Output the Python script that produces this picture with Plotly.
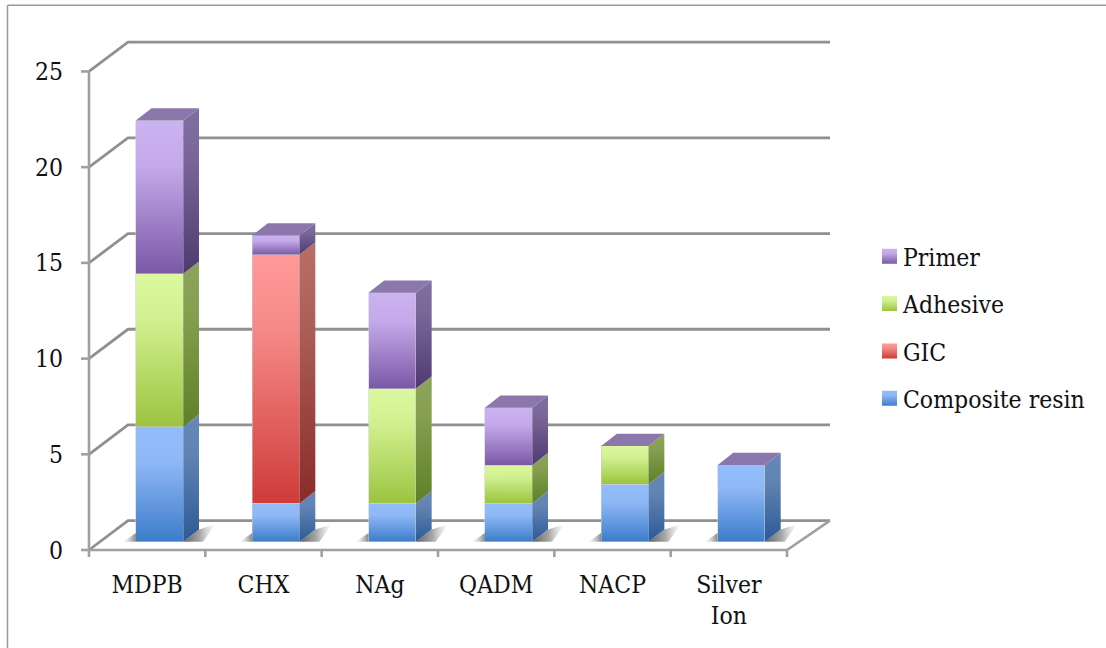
import plotly.graph_objects as go

# Chart data
categories = ["MDPB", "CHX", "NAg", "QADM", "NACP", "Silver<br>Ion"]
composite_resin = [6, 2, 2, 2, 3, 4]
gic = [0, 13, 0, 0, 0, 0]
adhesive = [8, 0, 6, 2, 2, 0]
primer = [8, 1, 5, 3, 0, 0]
value_ticks = [0, 5, 10, 15, 20, 25]

series = [
    ("Composite resin", composite_resin, 4,
     ["#93bcfb", "#8fb8f6", "#3c7cca"], ["#6687b8", "#6284b4", "#2b5a96"]),
    ("GIC", gic, 3,
     ["#ff9a98", "#f58a88", "#cf3b39"], ["#b86f68", "#ad605a", "#8a2b28"]),
    ("Adhesive", adhesive, 2,
     ["#dcf8a0", "#d2f090", "#9bc43f"], ["#8da35e", "#86a050", "#5e7f27"]),
    ("Primer", primer, 1,
     ["#cbb2f0", "#c4a9ea", "#7a58a6"], ["#816fa2", "#7a6699", "#4e3a70"]),
]
TOP_FACE = "#8b77ab"
GRID_GREY = "#909090"
FONT = "DejaVu Serif Condensed, DejaVu Serif, serif"
FONT_SIZE = 24.5

# Page geometry in pixels: the box front sits at BOX_LEFT / BOX_BOTTOM,
# with a little room around it so its edges and tick marks are not clipped
WIDTH, HEIGHT = 1106, 648
BOX_LEFT, BOX_RIGHT, BOX_TOP, BOX_BOTTOM = 89, 830, 42.3, 550
PAD_L, PAD_R, PAD_T, PAD_B = 9, 3, 3, 8
LEFT, RIGHT, TOP, BOTTOM = BOX_LEFT - PAD_L, BOX_RIGHT + PAD_R, BOX_TOP - PAD_T, BOX_BOTTOM + PAD_B
X_UNIT = 116.4
Y_UNIT = 19.13

# Oblique depth of the chart box and of the columns, in axis units
WALL_DX_LEFT = 39 / X_UNIT
WALL_DX_RIGHT = 43 / X_UNIT
WALL_DY = 29.3 / Y_UNIT
BAR_WIDTH = 47.5 / X_UNIT
BAR_SHIFT = 12.4 / X_UNIT
BAR_DX = 15.7 / X_UNIT
BAR_DY = 12.3 / Y_UNIT
FLOOR_LIFT = 8.3 / Y_UNIT

X_RANGE = [-0.5 - PAD_L / X_UNIT, 5.5 + WALL_DX_RIGHT + PAD_R / X_UNIT]
Y_RANGE = [-PAD_B / Y_UNIT, (BOX_BOTTOM - BOX_TOP + PAD_T) / Y_UNIT]


def stops(colors):
    return [[0, colors[0]], [0.3, colors[1]], [1, colors[2]]]


def polygon(xs, ys, color, meta=None):
    return go.Scatter(
        x=xs + xs[:1], y=ys + ys[:1], yaxis="y2", mode="lines", fill="toself",
        fillcolor=color, line=dict(width=0), hoverinfo="skip",
        showlegend=False, meta=meta,
    )


fig = go.Figure()

# Back wall and left wall gridlines
grid_x, grid_y = [], []
for v in value_ticks:
    grid_x += [-0.5, -0.5 + WALL_DX_LEFT, 5.5 + WALL_DX_RIGHT, None]
    grid_y += [v, v + WALL_DY, v + WALL_DY, None]
fig.add_trace(go.Scatter(
    x=grid_x, y=grid_y, mode="lines", line=dict(color=GRID_GREY, width=2.8),
    hoverinfo="skip", showlegend=False,
))

# Front edges of the box with their tick marks
edge_x = [-0.5, -0.5, None, -0.5, 5.5, 5.5 + WALL_DX_RIGHT, None]
edge_y = [value_ticks[-1], 0, None, 0, 0, WALL_DY, None]
for v in value_ticks:
    edge_x += [-0.5 - 8 / X_UNIT, -0.5, None]
    edge_y += [v, v, None]
for k in range(len(categories) + 1):
    edge_x += [k - 0.5, k - 0.5, None]
    edge_y += [0, -7 / Y_UNIT, None]
fig.add_trace(go.Scatter(
    x=edge_x, y=edge_y, mode="lines", line=dict(color="#a0a0a0", width=2.6),
    hoverinfo="skip", showlegend=False,
))

# Stacked front faces
for name, values, rank, front, _ in series:
    fig.add_trace(go.Bar(
        x=list(range(len(categories))), y=values, name=name, yaxis="y2",
        width=BAR_WIDTH, offset=BAR_SHIFT - BAR_WIDTH / 2,
        marker=dict(color=front[1], line=dict(color="rgba(205,205,205,0.7)", width=0.8)),
        legendgroup=name, legendrank=rank, hoverinfo="skip",
        meta={"stops": stops(front)},
    ))

# Floor shadows, side faces and caps derived from the stacked values
for i in range(len(categories)):
    left = i + BAR_SHIFT - BAR_WIDTH / 2
    right = left + BAR_WIDTH
    fig.add_trace(polygon(
        [right, right + BAR_DX, right + BAR_DX + 0.14, right + 0.17],
        [0, BAR_DY, BAR_DY + 0.25, 0], "#777777",
        {"stops": [[0, "#444444", 0.85], [0.5, "#666666", 0.6], [1, "#999999", 0]], "horizontal": True},
    ))
    fig.add_trace(polygon(
        [left - 0.11, left, left], [0, 0, 0.45], "#777777",
        {"stops": [[0, "#999999", 0], [1, "#555555", 0.7]], "horizontal": True},
    ))
    base = 0
    for name, values, _, _, side in series:
        h = values[i]
        if h:
            fig.add_trace(polygon(
                [right, right + BAR_DX, right + BAR_DX, right],
                [base, base + BAR_DY, base + h + BAR_DY, base + h],
                side[1], {"stops": stops(side)},
            ))
        base += h
    fig.add_trace(polygon(
        [left, left + BAR_DX, right + BAR_DX, right],
        [base, base + BAR_DY, base + BAR_DY, base], TOP_FACE,
    ))


def paper_x(px):
    return (px - LEFT) / (RIGHT - LEFT)


def paper_y(px):
    return (BOTTOM - px) / (BOTTOM - TOP)


fig.update_layout(
    width=WIDTH, height=HEIGHT, autosize=False,
    margin=dict(l=LEFT, r=WIDTH - RIGHT, t=TOP, b=HEIGHT - BOTTOM, pad=0),
    paper_bgcolor="white", plot_bgcolor="white",
    barmode="stack", showlegend=True,
    font=dict(family=FONT, size=FONT_SIZE, color="#111111"),
    xaxis=dict(
        range=X_RANGE, showgrid=False, zeroline=False, showline=False,
        tickmode="array", tickvals=list(range(len(categories))), ticktext=categories,
        ticks="", ticklabelstandoff=9, fixedrange=True,
    ),
    yaxis=dict(
        range=Y_RANGE, showgrid=False, zeroline=False, showline=False,
        tickmode="array", tickvals=value_ticks, ticks="",
        ticklabelstandoff=16, fixedrange=True,
    ),
    yaxis2=dict(
        overlaying="y", range=[Y_RANGE[0] - FLOOR_LIFT, Y_RANGE[1] - FLOOR_LIFT],
        visible=False, fixedrange=True,
    ),
    legend=dict(
        x=paper_x(863), xanchor="left", y=paper_y(234), yanchor="top",
        traceorder="grouped", tracegroupgap=12.5,
        bgcolor="rgba(0,0,0,0)", font=dict(family=FONT, size=FONT_SIZE, color="#111111"),
    ),
    shapes=[
        dict(type="line", xref="paper", yref="paper", line=dict(color="#999999", width=1.5),
             x0=paper_x(7.5), x1=paper_x(7.5), y0=paper_y(5.5), y1=paper_y(HEIGHT)),
        dict(type="line", xref="paper", yref="paper", line=dict(color="#999999", width=1.5),
             x0=paper_x(7.5), x1=paper_x(WIDTH), y0=paper_y(5.5), y1=paper_y(5.5)),
    ],
)

# Plotly has no gradient fills, so the faces get SVG gradients once the plot is drawn
GRADIENT_JS = r"""
var gd = document.getElementById('{plot_id}');
var NS = 'http://www.w3.org/2000/svg';
var defs = gd.querySelector('svg.main-svg defs');
var counter = 0;
function gradient(meta) {
  var g = document.createElementNS(NS, 'linearGradient');
  var id = 'face-gradient-' + (counter++);
  g.setAttribute('id', id);
  g.setAttribute('x1', '0'); g.setAttribute('y1', '0');
  g.setAttribute('x2', meta.horizontal ? '1' : '0');
  g.setAttribute('y2', meta.horizontal ? '0' : '1');
  meta.stops.forEach(function (s) {
    var stop = document.createElementNS(NS, 'stop');
    stop.setAttribute('offset', s[0]);
    stop.setAttribute('stop-color', s[1]);
    stop.setAttribute('stop-opacity', s.length > 2 ? s[2] : 1);
    g.appendChild(stop);
  });
  defs.appendChild(g);
  return 'url(#' + id + ')';
}
function paint(path, meta) {
  path.style.fill = gradient(meta);
  path.style.fillOpacity = 1;
}
gd.querySelectorAll('.barlayer .trace').forEach(function (el) {
  var meta = gd.data[el.__data__[0].trace.index].meta;
  if (meta) el.querySelectorAll('.point path').forEach(function (p) { paint(p, meta); });
});
gd.querySelectorAll('.scatterlayer .trace').forEach(function (el) {
  var meta = gd.data[el.__data__[0].trace.index].meta;
  var fill = el.querySelector('.js-fill');
  if (meta && fill) paint(fill, meta);
});
gd.querySelectorAll('.legend .traces').forEach(function (el) {
  var item = el.__data__[0];
  var trace = item.trace || item[0].trace;
  var meta = gd.data[trace.index].meta;
  el.querySelectorAll('.legendpoints path').forEach(function (p) {
    p.setAttribute('d', 'M7.5,7.5H-7.5V-7.5H7.5Z');
    p.setAttribute('transform', 'translate(26.5,0)');
    p.style.strokeWidth = 0;
    if (meta) paint(p, meta);
  });
});
"""

fig.write_html("out.html", post_script=GRADIENT_JS, config={"displayModeBar": False})
